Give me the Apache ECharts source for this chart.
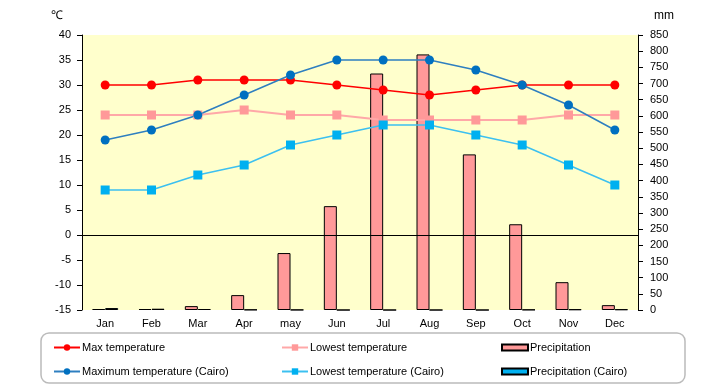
<!DOCTYPE html>
<html><head><meta charset="utf-8">
<script src="https://cdn.jsdelivr.net/npm/echarts@6/dist/echarts.min.js"></script>
<style>html,body{margin:0;padding:0;background:#fff}#c{width:720px;height:385px}</style>
</head><body><div id="c"></div>
<script>
const months = ['Jan','Feb','Mar','Apr','may','Jun','Jul','Aug','Sep','Oct','Nov','Dec'];
const maxTemp = [30,30,31,31,31,30,29,28,29,30,30,30];
const lowTemp = [24,24,24,25,24,24,23,23,23,23,24,24];
const precip = [3,3,12,46,176,321,731,790,481,265,86,15];
const maxCairo = [19,21,24,28,32,35,35,35,33,30,26,21];
const lowCairo = [9,9,12,14,18,20,22,22,20,18,14,10];
const precipCairo = [6,4,3,1,0.5,0,0,0,0,1,2,2];

const FONT = 'Liberation Sans';
const chart = echarts.init(document.getElementById('c'), null, {renderer:'canvas'});
const txt = {fontFamily: FONT, fontSize: 11, color: '#000'};
function leg(name, left, top, h, icon){
  const o = {data:[name], left:left, top:top, itemWidth:26, itemHeight:h, itemGap:0, padding:0,
    textStyle:Object.assign({}, txt, {padding:[0,0,0,-3]}), selectedMode:false, z:10};
  if (icon) o.icon = icon;
  return o;
}
chart.setOption({
  animation:false,
  backgroundColor:'#fff',
  textStyle:{fontFamily:FONT},
  graphic:[
    {type:'rect', shape:{x:41,y:333,width:644,height:50,r:8}, style:{fill:'#fff',stroke:'#BBBBBB',lineWidth:1.5}, z:-1},
    {type:'text', left:51, top:10, style:{text:'℃', font:'12px '+FONT, fill:'#000'}},
    {type:'text', left:654, top:10, style:{text:'mm', font:'12px '+FONT, fill:'#000'}}
  ],
  legend:[
    leg('Max temperature',53,342,8),
    leg('Lowest temperature',281,342,8),
    leg('Precipitation',501,342,6,'rect'),
    leg('Maximum temperature (Cairo)',53,366,8),
    leg('Lowest temperature (Cairo)',281,366,8),
    leg('Precipitation (Cairo)',501,366,6,'rect')
  ],
  grid:{left:82,right:82,top:35,bottom:75,show:true,backgroundColor:'#FFFFCC',borderWidth:0},
  xAxis:{type:'category',data:months,axisLine:{show:false,onZero:false},axisTick:{show:false},
    axisLabel:Object.assign({},txt,{margin:8})},
  yAxis:[
    {type:'value',min:-15,max:40,interval:5,axisLine:{show:true,onZero:false,lineStyle:{color:'#000',width:1}},
     axisTick:{show:true,length:5,lineStyle:{color:'#000'}},splitLine:{show:false},
     axisLabel:Object.assign({},txt,{margin:11})},
    {type:'value',min:0,max:850,interval:50,position:'right',axisLine:{show:true,onZero:false,lineStyle:{color:'#000',width:1}},
     axisTick:{show:true,length:5,lineStyle:{color:'#000'}},splitLine:{show:false},
     axisLabel:Object.assign({},txt,{margin:12})}
  ],
  series:[
    {name:'Precipitation',type:'bar',yAxisIndex:1,data:precip,barWidth:13,barGap:'0%',
     itemStyle:{color:'#FF9999',borderColor:'#000',borderWidth:1}},
    {name:'Precipitation (Cairo)',type:'bar',yAxisIndex:1,data:precipCairo,barWidth:13,barGap:'0%',
     itemStyle:{color:'#00B0F0',borderColor:'#000',borderWidth:1}},
    {name:'Max temperature',type:'line',data:maxTemp,symbol:'circle',symbolSize:9,
     lineStyle:{color:'#FF0000',width:1.5},itemStyle:{color:'#FF0000'},
     markLine:{silent:true,symbol:'none',label:{show:false},lineStyle:{color:'#000',width:1,type:'solid'},data:[{yAxis:0}]}},
    {name:'Lowest temperature',type:'line',data:lowTemp,symbol:'rect',symbolSize:9,
     lineStyle:{color:'#FFA8A8',width:2},itemStyle:{color:'#FF9999'}},
    {name:'Maximum temperature (Cairo)',type:'line',data:maxCairo,symbol:'circle',symbolSize:9,
     lineStyle:{color:'#2E7FC0',width:1.5},itemStyle:{color:'#0070C0'}},
    {name:'Lowest temperature (Cairo)',type:'line',data:lowCairo,symbol:'rect',symbolSize:9,
     lineStyle:{color:'#3CC0F0',width:1.5},itemStyle:{color:'#00B0F0'}}
  ]
});
</script></body></html>
